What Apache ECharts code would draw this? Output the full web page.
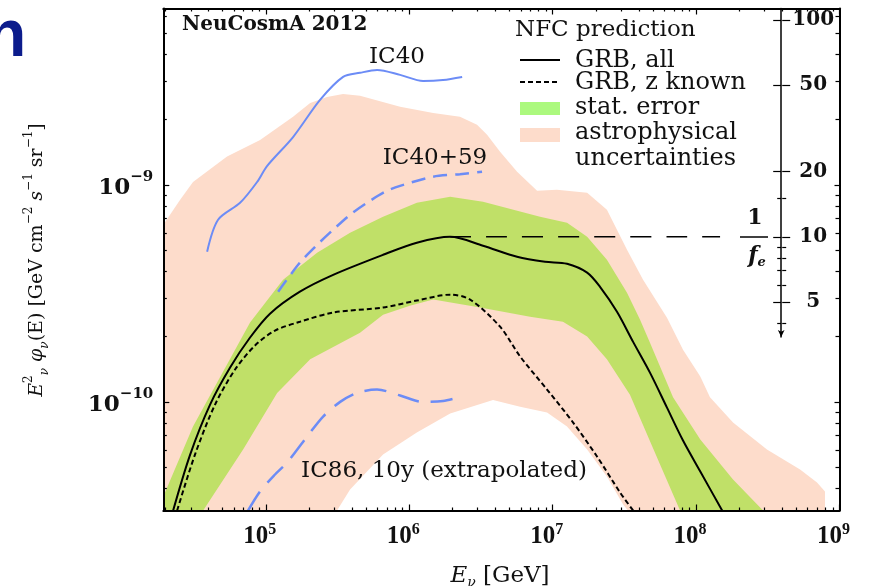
<!DOCTYPE html>
<html>
<head>
<meta charset="utf-8">
<script src="https://cdn.jsdelivr.net/npm/echarts@6/dist/echarts.min.js"></script>
<style>
  html, body { margin: 0; padding: 0; background: #fff; }
  #main { width: 882px; height: 586px; }
</style>
</head>
<body>
<div id="main"></div>
<script>
  // E [GeV] and E^2 phi [GeV cm^-2 s^-1 sr^-1]
  const xMin = 1.93e4, xMax = 1e9;
  const yMin = 3.16e-11, yMax = 6.49e-9;

  const grbAllE = [2.26e4, 2.97e4, 4.09e4, 5.64e4, 7.77e4, 1.07e5, 1.73e5, 2.95e5, 6.57e5, 1.13e6, 1.93e6, 3.27e6,
    5.65e6, 8.85e6, 1.26e7, 1.74e7, 2.14e7, 2.81e7, 3.64e7, 4.78e7, 6.27e7, 8.11e7, 1.07e8, 1.52e8];
  const grbAllF = [3.16e-11, 5.72e-11, 9.72e-11, 1.44e-10, 1.98e-10, 2.55e-10, 3.22e-10, 3.85e-10, 4.76e-10, 5.41e-10, 5.76e-10, 5.24e-10,
    4.66e-10, 4.42e-10, 4.33e-10, 3.94e-10, 3.39e-10, 2.60e-10, 1.89e-10, 1.36e-10, 9.41e-11, 6.64e-11, 4.78e-11, 3.16e-11];

  const grbZE = [2.41e4, 3.21e4, 4.43e4, 6.11e4, 8.42e4, 1.16e5, 1.73e5, 2.95e5, 6.57e5, 1.13e6, 1.93e6, 2.66e6,
    4.30e6, 5.93e6, 9.14e6, 1.39e7, 2.04e7, 2.95e7, 3.64e7];
  const grbZF = [3.16e-11, 5.72e-11, 9.72e-11, 1.41e-10, 1.82e-10, 2.13e-10, 2.34e-10, 2.58e-10, 2.72e-10, 2.93e-10, 3.12e-10, 2.96e-10,
    2.22e-10, 1.62e-10, 1.14e-10, 8.03e-11, 5.60e-11, 3.83e-11, 3.16e-11];

  const statUpE = [1.93e4, 3.11e4, 4.58e4, 7.77e4, 1.32e5, 2.28e5, 3.87e5, 6.57e5, 1.13e6, 1.93e6, 3.27e6, 8.17e6,
    1.26e7, 1.74e7, 2.39e7, 3.30e7, 4.07e7, 4.78e7, 6.91e7, 1.07e8, 1.81e8, 2.93e8];
  const statUpF = [3.67e-11, 7.70e-11, 1.23e-10, 2.32e-10, 3.65e-10, 4.87e-10, 6.01e-10, 7.12e-10, 8.26e-10, 8.81e-10, 8.35e-10, 7.12e-10,
    6.69e-10, 5.76e-10, 4.52e-10, 3.18e-10, 2.39e-10, 1.87e-10, 1.05e-10, 6.71e-11, 4.39e-11, 3.16e-11];
  const statLoE = [1.93e4, 3.66e4, 6.95e4, 1.20e5, 2.04e5, 4.54e5, 6.57e5, 1.01e6, 1.47e6, 3.12e6, 6.96e6, 1.18e7,
    1.74e7, 2.39e7, 3.46e7, 5.61e7, 7.73e7];
  const statLoF = [3.16e-11, 3.16e-11, 6.03e-11, 1.10e-10, 1.57e-10, 2.08e-10, 2.52e-10, 2.77e-10, 2.96e-10, 2.72e-10, 2.47e-10, 2.34e-10,
    2.00e-10, 1.57e-10, 1.08e-10, 5.15e-11, 3.16e-11];

  const astroUpE = [1.93e4, 2.53e4, 3.11e4, 5.37e4, 9.13e4, 1.55e5, 2.04e5, 2.67e5, 3.46e5, 4.54e5, 8.64e5, 1.47e6,
    2.26e6, 2.97e6, 3.49e6, 4.30e6, 5.65e6, 7.79e6, 1.07e7, 1.74e7, 2.39e7, 3.30e7, 4.27e7, 6.27e7,
    8.11e7, 1.07e8, 1.25e8, 1.81e8, 3.12e8, 5.31e8, 6.97e8, 7.92e8, 7.92e8];
  const astroUpF = [6.54e-10, 8.53e-10, 1.03e-9, 1.35e-9, 1.61e-9, 2.06e-9, 2.38e-9, 2.54e-9, 2.62e-9, 2.57e-9, 2.29e-9, 2.14e-9,
    2.06e-9, 1.89e-9, 1.70e-9, 1.42e-9, 1.15e-9, 9.38e-10, 9.48e-10, 9.19e-10, 7.67e-10, 5.02e-10, 3.65e-10, 2.44e-10,
    1.74e-10, 1.31e-10, 1.05e-10, 8.03e-11, 6.03e-11, 4.88e-11, 4.25e-11, 3.87e-11, 3.16e-11];
  const astroLoE = [1.93e4, 3.14e5, 3.87e5, 6.57e5, 1.13e6, 1.93e6, 3.84e6, 5.93e6, 9.14e6, 1.26e7, 1.74e7, 2.39e7, 3.10e7, 3.35e7];
  const astroLoF = [3.16e-11, 3.16e-11, 3.95e-11, 5.72e-11, 7.22e-11, 8.84e-11, 1.02e-10, 9.51e-11, 8.93e-11, 7.70e-11, 6.03e-11, 4.53e-11, 3.37e-11, 3.16e-11];

  const ic40E = [3.90e4, 4.65e4, 6.62e4, 8.70e4, 1.02e5, 1.55e5, 2.39e5, 3.46e5, 4.54e5, 5.97e5, 8.64e5, 1.25e6, 1.72e6, 2.34e6];
  const ic40F = [4.92e-10, 6.90e-10, 8.26e-10, 1.03e-9, 1.22e-9, 1.66e-9, 2.46e-9, 3.14e-9, 3.28e-9, 3.38e-9, 3.21e-9, 3.01e-9, 3.04e-9, 3.14e-9];

  const ic4059E = [1.22e5, 1.73e5, 2.28e5, 2.95e5, 3.87e5, 5.08e5, 6.79e5, 8.64e5, 1.47e6, 2.26e6, 3.22e6];
  const ic4059F = [3.22e-10, 4.38e-10, 5.29e-10, 6.21e-10, 7.28e-10, 8.26e-10, 9.29e-10, 9.89e-10, 1.09e-9, 1.12e-9, 1.15e-9];

  const ic86E = [7.53e4, 9.13e4, 1.16e5, 1.41e5, 1.94e5, 2.51e5, 3.30e5, 4.33e5, 5.97e5, 8.64e5, 1.25e6, 1.72e6, 2.37e6];
  const ic86F = [3.16e-11, 3.87e-11, 4.63e-11, 5.26e-11, 6.92e-11, 8.56e-11, 1.00e-10, 1.10e-10, 1.14e-10, 1.07e-10, 1.00e-10, 1.01e-10, 1.06e-10];

  // 1/f_e reference level at the GRB peak
  const peakE = [1.93e6, 1.47e8];
  const peakF = [5.76e-10, 5.76e-10];

  // ticks
  const xMajorTicks = [1e5, 1e6, 1e7, 1e8, 1e9];
  const xMinorTicks = [1e4, 1e5, 1e6, 1e7, 1e8].flatMap(d => [2, 3, 4, 5, 6, 7, 8, 9].map(m => m * d));
  const yMajorTicks = [1e-10, 1e-9];
  const yMinorTicks = [1e-11, 1e-10, 1e-9].flatMap(d => [2, 3, 4, 5, 6, 7, 8, 9].map(m => m * d));
  const feMajorTicks = [5, 10, 20, 50, 100];
  const feMinorTicks = [4, 6, 7, 8, 9, 15];
  // 1/f_e = 10 sits at the GRB peak flux, scale ends at the arrow
  const feMin = 3.46, feMax = 10 * yMax / 5.76e-10;

  const zip = (xs, ys) => xs.map((x, i) => [x, ys[i]]);

  const serif = '"DejaVu Serif", serif';
  const blue = '#6c8cf6';
  const pink = '#fddccb';
  const green = '#c0e068';

  const chart = echarts.init(document.getElementById('main'), null, { renderer: 'canvas' });

  const plotRect = { left: 163.3, right: 42.5, top: 8.5, bottom: 75.5 };
  const feRect = { left: 781.2, right: 99.8, top: 8.5, bottom: 249 };

  const tickLine = { color: '#000', width: 1.2 };
  const frameLine = { show: true, lineStyle: { color: '#000', width: 2 } };
  const expLabel = (neg) => v => '{b|10}{s|' + (neg ? '\u2212' : '') + Math.abs(Math.round(Math.log10(v))) + '}';

  function logX(gridIndex, position, ticks, len, opts) {
    return Object.assign({
      type: 'log', gridIndex, position, min: xMin, max: xMax, z: 10,
      axisLine: { show: false, onZero: false },
      axisTick: { show: true, inside: true, length: len, customValues: ticks, lineStyle: tickLine },
      axisLabel: { show: false },
      splitLine: { show: false }, minorTick: { show: false }
    }, opts || {});
  }
  function logY(gridIndex, position, ticks, len, opts) {
    return Object.assign({
      type: 'log', gridIndex, position, min: yMin, max: yMax, z: 10,
      axisLine: { show: false, onZero: false },
      axisTick: { show: true, inside: true, length: len, customValues: ticks, lineStyle: tickLine },
      axisLabel: { show: false },
      splitLine: { show: false }, minorTick: { show: false }
    }, opts || {});
  }
  function feY(gridIndex, position, ticks, len, opts) {
    return Object.assign({
      type: 'log', gridIndex, position, min: feMin, max: feMax, z: 10,
      axisLine: { show: false, onZero: false },
      axisTick: { show: true, inside: false, length: len, customValues: ticks, lineStyle: tickLine },
      axisLabel: { show: false },
      splitLine: { show: false }, minorTick: { show: false }
    }, opts || {});
  }
  const hiddenX = (gridIndex) => ({ type: 'value', gridIndex, min: 0, max: 1, show: false });

  function band(name, upE, upF, loE, loF, color, z) {
    const pts = zip(upE, upF).concat(zip(loE, loF).reverse());
    return {
      name, type: 'custom', z, silent: true, xAxisIndex: 0, yAxisIndex: 0,
      data: [pts[0]],
      renderItem: (params, api) => ({
        type: 'polygon',
        shape: { points: pts.map(p => api.coord(p)) },
        style: { fill: color }
      })
    };
  }
  function curve(name, xs, ys, color, width, dash, z) {
    return {
      name, type: 'line', z, silent: true, xAxisIndex: 0, yAxisIndex: 0,
      data: zip(xs, ys), symbol: 'none', smooth: 0.3, clip: true,
      lineStyle: { color, width, type: dash || 'solid' }
    };
  }

  const text = (x, y, str, extra) => ({
    type: 'text', x, y, z: 100, silent: true,
    style: Object.assign({ text: str, fill: '#111', font: '23px ' + serif, align: 'left', verticalAlign: 'middle' }, extra || {})
  });

  chart.setOption({
    animation: false,
    backgroundColor: '#fff',
    grid: [
      Object.assign({}, plotRect),
      Object.assign({}, plotRect),
      Object.assign({}, feRect),
      Object.assign({}, feRect)
    ],
    xAxis: [
      logX(0, 'bottom', xMajorTicks, 6, {
        axisLine: frameLine,
        axisLabel: {
          show: true, customValues: xMajorTicks, margin: 11, formatter: expLabel(false),
          padding: [0, 12, 0, 0],
          rich: {
            b: { fontFamily: '"Liberation Serif", serif', fontWeight: 'bold', fontSize: 25, color: '#111', verticalAlign: 'bottom', lineHeight: 28 },
            s: { fontFamily: '"Liberation Serif", serif', fontWeight: 'bold', fontSize: 16, color: '#111', verticalAlign: 'top', lineHeight: 28 }
          }
        }
      }),
      logX(0, 'top', xMajorTicks, 6, { axisLine: frameLine }),
      logX(1, 'bottom', xMinorTicks, 3),
      logX(1, 'top', xMinorTicks, 3),
      hiddenX(2),
      hiddenX(3)
    ],
    yAxis: [
      logY(0, 'left', yMajorTicks, 6, {
        axisLine: frameLine,
        axisLabel: {
          show: true, customValues: yMajorTicks, margin: 10, formatter: expLabel(true),
          rich: {
            b: { fontFamily: serif, fontWeight: 'bold', fontSize: 23, color: '#111', verticalAlign: 'bottom', lineHeight: 30 },
            s: { fontFamily: serif, fontWeight: 'bold', fontSize: 15, color: '#111', verticalAlign: 'top', lineHeight: 30 }
          }
        }
      }),
      logY(0, 'right', yMajorTicks, 5, { axisLine: frameLine }),
      logY(1, 'left', yMinorTicks, 3.5),
      logY(1, 'right', yMinorTicks, 4),
      // 1/f_e scale, crossing ticks: one axis each side of a 1px grid
      feY(2, 'left', feMajorTicks, 8, {
        axisLine: { show: true, onZero: false, symbol: ['arrow', 'none'], symbolSize: [5, 7], lineStyle: { color: '#000', width: 1.5 } }
      }),
      feY(2, 'right', feMajorTicks, 8, {
        axisLabel: {
          show: true, customValues: feMajorTicks, margin: 31, align: 'center',
          fontFamily: serif, fontWeight: 'bold', fontSize: 20, color: '#111'
        }
      }),
      feY(3, 'left', feMinorTicks, 4),
      feY(3, 'right', feMinorTicks, 4)
    ],
    series: [
      band('astrophysical uncertainties', astroUpE, astroUpF, astroLoE, astroLoF, pink, 1),
      band('stat. error', statUpE, statUpF, statLoE, statLoF, green, 2),
      curve('IC40', ic40E, ic40F, blue, 2, 'solid', 3),
      curve('IC40+59', ic4059E, ic4059F, blue, 2.5, [14, 8], 3),
      curve('IC86, 10y', ic86E, ic86F, blue, 2.5, [22, 12], 3),
      curve('GRB, z known', grbZE, grbZF, '#000', 2, [5, 3], 4),
      curve('GRB, all', grbAllE, grbAllF, '#000', 2, 'solid', 5),
      curve('1/fe', peakE, peakF, '#000', 1.5, [21, 15], 5)
    ],
    graphic: [
      text(-14, 38, 'n', { font: 'bold 66px "Liberation Sans", sans-serif', fill: '#0c1c8c' }),
      text(182, 25, 'NeuCosmA 2012', { font: 'bold 20px ' + serif }),
      text(397, 57, 'IC40', { align: 'center' }),
      text(435, 158, 'IC40+59', { align: 'center' }),
      text(444, 471, 'IC86, 10y (extrapolated)', { align: 'center', font: '23px ' + serif }),
      // legend
      text(515, 30, 'NFC prediction'),
      { type: 'line', z: 100, shape: { x1: 520, y1: 60, x2: 560, y2: 60 }, style: { stroke: '#000', lineWidth: 2 } },
      text(575, 61, 'GRB, all', { font: '24px ' + serif }),
      { type: 'line', z: 100, shape: { x1: 520, y1: 82, x2: 560, y2: 82 }, style: { stroke: '#000', lineWidth: 2, lineDash: [5, 3] } },
      text(575, 83, 'GRB, z known', { font: '24px ' + serif }),
      { type: 'rect', z: 100, shape: { x: 520, y: 102, width: 40, height: 13 }, style: { fill: '#acf97e' } },
      text(575, 108, 'stat. error', { font: '24px ' + serif }),
      { type: 'rect', z: 100, shape: { x: 520, y: 128, width: 40, height: 14 }, style: { fill: pink } },
      text(575, 133, 'astrophysical', { font: '24px ' + serif }),
      text(575, 159, 'uncertainties', { font: '24px ' + serif }),
      // 1/f_e fraction
      text(755, 218, '1', { align: 'center', font: 'bold 22px ' + serif }),
      { type: 'line', z: 100, shape: { x1: 740, y1: 237, x2: 768, y2: 237 }, style: { stroke: '#000', lineWidth: 1.5 } },
      text(757, 257, '{f|f}{e|e}', {
        align: 'center',
        rich: {
          f: { fontFamily: serif, fontStyle: 'italic', fontWeight: 'bold', fontSize: 22, verticalAlign: 'top', lineHeight: 24 },
          e: { fontFamily: serif, fontStyle: 'italic', fontWeight: 'bold', fontSize: 13, verticalAlign: 'bottom', lineHeight: 24 }
        }
      }),
      // axis titles
      text(500, 576, '{i|E}{sub|\u03bd} [GeV]', {
        align: 'center', font: '23px ' + serif,
        rich: {
          i: { fontFamily: serif, fontStyle: 'italic', fontSize: 23, lineHeight: 28 },
          sub: { fontFamily: serif, fontStyle: 'italic', fontSize: 14, verticalAlign: 'bottom', lineHeight: 28 }
        }
      }),
      {
        type: 'text', x: 37, y: 260, rotation: Math.PI / 2, z: 100, silent: true,
        style: {
          text: '{i|E}{sup|2}{sub|\u03bd} {i|\u03c6}{sub|\u03bd}(E) [GeV cm{sup|\u22122} {i|s}{sup|\u22121} sr{sup|\u22121}]',
          font: '19px ' + serif, fill: '#111', align: 'center', verticalAlign: 'middle',
          rich: {
            i: { fontFamily: serif, fontStyle: 'italic', fontSize: 19, lineHeight: 28 },
            sup: { fontFamily: serif, fontSize: 12, verticalAlign: 'top', lineHeight: 28 },
            sub: { fontFamily: serif, fontStyle: 'italic', fontSize: 12, verticalAlign: 'bottom', lineHeight: 28 }
          }
        }
      }
    ]
  });

  window.onresize = function () {
    chart.resize();
  };
</script>
</body>
</html>
